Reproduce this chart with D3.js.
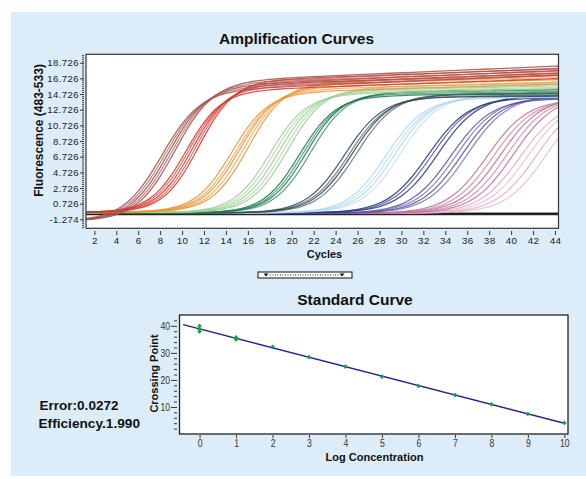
<!DOCTYPE html>
<html><head><meta charset="utf-8">
<script src="https://cdn.jsdelivr.net/npm/d3@7"></script>
<style>
body{margin:0;background:#fff;}
svg text{font-family:"Liberation Sans",Arial,sans-serif;}
</style></head><body>
<svg id="c" width="586" height="479"></svg>
<script>
// ================= DATA =================
// Amplification curves
const cycles = d3.range(1, 46);                       // cycle numbers 1..45
const ampYTicks = [-1.274, 0.726, 2.726, 4.726, 6.726, 8.726, 10.726, 12.726, 14.726, 16.726, 18.726];
const ampXTicks = [2,4,6,8,10,12,14,16,18,20,22,24,26,28,30,32,34,36,38,40,42,44];
// one group per dilution (log concentration 10 .. 0)
const groupColors    = ["#a4524b","#d43a2f","#ec9434","#9fd098","#1f7b4b","#3b4b57","#b0d9ee","#2c3883","#5a55a6","#c27394","#e2adc6"];
const groupBaselines = [-1.5, -0.4, -0.35, -0.4, -0.45, -0.45, -0.45, -0.45, -0.5, -0.5, -0.5];
const groupSteepness = [1.75, 1.6, 1.65, 1.65, 1.65, 1.75, 1.75, 1.85, 1.85, 1.85, 1.85];
const groupDrift     = [0.06, 0.05, 0.04, 0.03, 0.02, 0.008, 0.006, 0.005, 0.005, 0.005, 0.005];
const groupMidpoints = [
  [8.1, 8.4, 8.7, 9.0, 9.3],
  [10.3, 10.6, 10.9, 11.2, 11.5],
  [14.5, 14.9, 15.2, 15.6, 16.0],
  [18.0, 18.4, 18.8, 19.2, 19.6],
  [20.7, 21.0, 21.3, 21.7],
  [24.8, 25.2, 25.5, 25.9],
  [28.6, 29.0, 29.4, 29.9],
  [32.4, 32.8, 33.3],
  [34.5, 35.0, 35.5, 36.0],
  [37.8, 38.4, 39.0, 39.6, 40.2],
  [40.8, 41.5, 42.3, 43.2]
];
const groupPlateaus = [
  [15.0, 15.3, 15.6, 15.9, 16.2],
  [15.0, 15.4, 15.7, 16.0, 16.3],
  [14.8, 15.1, 15.4, 15.7, 16.0],
  [14.6, 14.8, 15.0, 15.2, 15.4],
  [14.4, 14.6, 14.8, 14.9],
  [14.3, 14.4, 14.6, 14.7],
  [14.2, 14.3, 14.5, 14.6],
  [14.2, 14.4, 14.5],
  [14.1, 14.3, 14.4, 14.5],
  [14.0, 14.1, 14.3, 14.4, 14.5],
  [13.8, 14.0, 14.2, 14.4]
];
const negativeLevels = [-0.5, -0.58, -0.65];

// Standard curve
const logConc        = [0, 0, 0, 1, 1, 2, 3, 4, 5, 6, 7, 8, 9, 10];
const crossingPoints = [39.9, 38.7, 37.9, 35.7, 35.0, 32.2, 28.4, 24.9, 21.2, 17.8, 14.4, 11.0, 7.4, 4.1];
const stdXTicks = [0,1,2,3,4,5,6,7,8,9,10];
const stdYTicks = [10, 20, 30, 40];
const stdYMinor = [2,4,6,8,12,14,16,18,22,24,26,28,32,34,36,38,42];
const fitRange  = [-0.45, 10];
const errorText = "Error:0.0272";
const efficiencyText = "Efficiency.1.990";

// ================= DRAW =================
const svg = d3.select("#c");

svg.append("rect").attr("x", 11).attr("y", 12).attr("width", 575).attr("height", 464).attr("fill", "#dcedf9");

// ---------- Amplification chart ----------
const A = {l: 86, r: 558.5, t: 54.3, b: 228.3};
const ampX = d3.scaleLinear().domain([1.24, 44.32]).range([A.l, A.r]);
const ampY = d3.scaleLinear().domain([-2.42, 19.8]).range([A.b, A.t]);

svg.append("text").attr("x", 296.5).attr("y", 44).attr("text-anchor", "middle")
  .attr("font-size", 15.5).attr("font-weight", "bold").attr("fill", "#111").text("Amplification Curves");

svg.append("rect").attr("x", A.l).attr("y", A.t).attr("width", A.r - A.l).attr("height", A.b - A.t).attr("fill", "#fff");
svg.append("clipPath").attr("id", "ampclip").append("rect")
  .attr("x", A.l).attr("y", A.t).attr("width", A.r - A.l).attr("height", A.b - A.t);

const line = d3.line().x(d => ampX(d[0])).y(d => ampY(d[1])).curve(d3.curveMonotoneX);
const curvesG = svg.append("g").attr("clip-path", "url(#ampclip)");

// negative controls (flat)
negativeLevels.forEach(v => {
  curvesG.append("path").datum(cycles.map(c => [c, v])).attr("d", line)
    .attr("fill", "none").attr("stroke", "#1b1b1b").attr("stroke-width", 1.6).attr("stroke-opacity", 0.9);
});

// amplification groups, latest first so earliest on top
for (let g = groupColors.length - 1; g >= 0; g--) {
  groupMidpoints[g].forEach((m, i) => {
    const P = groupPlateaus[g][i], b = groupBaselines[g], s = groupSteepness[g], d = groupDrift[g];
    const pts = cycles.map(c => {
      const f = 1 / (1 + Math.exp(-(c - m) / s));
      return [c, b + (P - b + d * Math.max(0, c - m)) * f];
    });
    curvesG.append("path").datum(pts).attr("d", line)
      .attr("fill", "none").attr("stroke", groupColors[g])
      .attr("stroke-width", 1.3).attr("stroke-opacity", i % 2 ? 0.65 : 0.85);
  });
}

svg.append("rect").attr("x", A.l).attr("y", A.t).attr("width", A.r - A.l).attr("height", A.b - A.t)
  .attr("fill", "none").attr("stroke", "#333").attr("stroke-width", 1.2);

// y axis
const yAx = svg.append("g").attr("transform", "translate(84,0)")
  .call(d3.axisLeft(ampY).tickValues(ampYTicks).tickSize(4).tickPadding(1).tickFormat(d => d.toFixed(3)));
yAx.select(".domain").remove();
yAx.selectAll("text").attr("font-size", 9.6).attr("letter-spacing", "0.4px").attr("fill", "#222");
yAx.selectAll("line").attr("stroke", "#333");
const yMinor = svg.append("g").attr("transform", "translate(84,0)")
  .call(d3.axisLeft(ampY).tickValues(d3.range(-2.274, 19.8, 0.25)).tickSize(2).tickFormat(""));
yMinor.select(".domain").remove();
yMinor.selectAll("line").attr("stroke", "#444");

svg.append("text").attr("transform", "translate(43,130.5) rotate(-90)").attr("text-anchor", "middle")
  .attr("font-size", 12).attr("font-weight", "bold").attr("fill", "#111").text("Fluorescence (483-533)");

// x axis
const xAx = svg.append("g").attr("transform", "translate(0,231)")
  .call(d3.axisBottom(ampX).tickValues(ampXTicks).tickSize(4).tickPadding(2));
xAx.select(".domain").remove();
xAx.selectAll("text").attr("font-size", 9.8).attr("letter-spacing", "0.4px").attr("fill", "#222");
xAx.selectAll("line").attr("stroke", "#333");

svg.append("text").attr("x", 324.5).attr("y", 258).attr("text-anchor", "middle")
  .attr("font-size", 11).attr("font-weight", "bold").attr("fill", "#111").text("Cycles");

// scroll widget
svg.append("rect").attr("x", 258).attr("y", 272).attr("width", 94).attr("height", 6)
  .attr("fill", "#fff").attr("stroke", "#111").attr("stroke-width", 1);
svg.append("line").attr("x1", 270).attr("x2", 339).attr("y1", 275).attr("y2", 275)
  .attr("stroke", "#222").attr("stroke-dasharray", "1,1.5");
[266, 342].forEach(x => {
  svg.append("path").attr("d", `M${x - 2.5},273.6L${x + 2.5},273.6L${x},276.4Z`).attr("fill", "#111");
});

// ---------- Standard curve ----------
const S = {l: 179.5, r: 568, t: 315, b: 434};
const stdX = d3.scaleLinear().domain([-0.55, 10.1]).range([S.l, S.r]);
const stdY = d3.scaleLinear().domain([0, 44]).range([S.b, S.t]);

svg.append("text").attr("x", 355).attr("y", 305).attr("text-anchor", "middle")
  .attr("font-size", 15.5).attr("font-weight", "bold").attr("fill", "#111").text("Standard Curve");

svg.append("rect").attr("x", S.l).attr("y", S.t).attr("width", S.r - S.l).attr("height", S.b - S.t).attr("fill", "#fff");

// regression line
const n = logConc.length;
const mx = d3.mean(logConc), my = d3.mean(crossingPoints);
let sxy = 0, sxx = 0;
for (let i = 0; i < n; i++) { sxy += (logConc[i] - mx) * (crossingPoints[i] - my); sxx += (logConc[i] - mx) ** 2; }
const slope = sxy / sxx, intercept = my - slope * mx;
svg.append("line")
  .attr("x1", stdX(fitRange[0])).attr("y1", stdY(intercept + slope * fitRange[0]))
  .attr("x2", stdX(fitRange[1])).attr("y2", stdY(intercept + slope * fitRange[1]))
  .attr("stroke", "#23239a").attr("stroke-width", 1.4);

svg.append("g").selectAll("path").data(logConc.map((x, i) => [x, crossingPoints[i]])).join("path")
  .attr("transform", d => `translate(${stdX(d[0])},${stdY(d[1])}) rotate(45)`)
  .attr("d", d3.symbol(d3.symbolSquare, 11)).attr("fill", "#17a043");

svg.append("rect").attr("x", S.l).attr("y", S.t).attr("width", S.r - S.l).attr("height", S.b - S.t)
  .attr("fill", "none").attr("stroke", "#222").attr("stroke-width", 1.3);

const narrow = sel => sel.selectAll("text").attr("font-size", 10.5).attr("fill", "#333")
  .attr("textLength", d => String(d).length * 4.8).attr("lengthAdjust", "spacingAndGlyphs");

const sy = svg.append("g").attr("transform", "translate(177,0)")
  .call(d3.axisLeft(stdY).tickValues(stdYTicks).tickSize(6).tickPadding(1));
sy.select(".domain").remove();
narrow(sy);
sy.selectAll("line").attr("stroke", "#333");
const syMinor = svg.append("g").attr("transform", "translate(177,0)")
  .call(d3.axisLeft(stdY).tickValues(stdYMinor).tickSize(3).tickFormat(""));
syMinor.select(".domain").remove();
syMinor.selectAll("line").attr("stroke", "#333");

const sx = svg.append("g").attr("transform", "translate(0,435)")
  .call(d3.axisBottom(stdX).tickValues(stdXTicks).tickSize(3).tickPadding(2));
sx.select(".domain").remove();
narrow(sx);
sx.selectAll("line").attr("stroke", "#333");

svg.append("text").attr("x", 374.5).attr("y", 461).attr("text-anchor", "middle")
  .attr("font-size", 11).attr("font-weight", "bold").attr("fill", "#111").text("Log Concentration");
svg.append("text").attr("transform", "translate(158,373.5) rotate(-90)").attr("text-anchor", "middle")
  .attr("font-size", 11).attr("font-weight", "bold").attr("fill", "#111").text("Crossing Point");

svg.append("text").attr("x", 39.5).attr("y", 410).attr("font-size", 13).attr("font-weight", "bold")
  .attr("fill", "#111").attr("textLength", 79).attr("lengthAdjust", "spacingAndGlyphs").text(errorText);
svg.append("text").attr("x", 38.5).attr("y", 428).attr("font-size", 13).attr("font-weight", "bold")
  .attr("fill", "#111").attr("textLength", 101.5).attr("lengthAdjust", "spacingAndGlyphs").text(efficiencyText);
</script>
</body></html>
